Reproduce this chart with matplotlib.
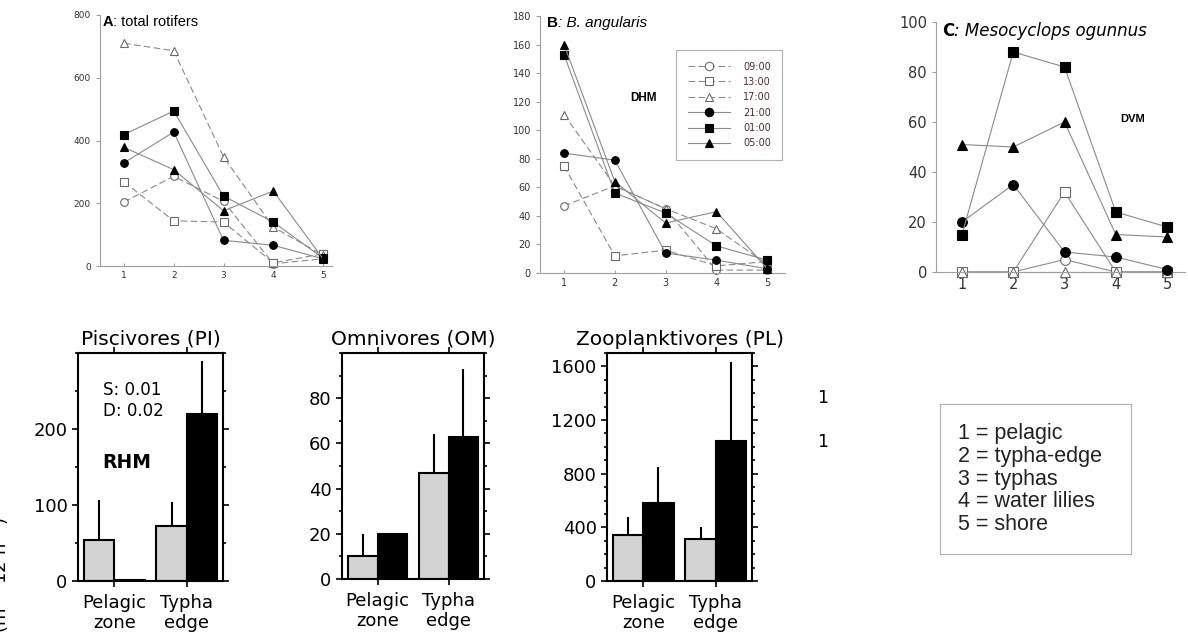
import matplotlib
matplotlib.use('Agg')
import matplotlib.pyplot as plt
from matplotlib.ticker import MultipleLocator

W, H = 1188, 637

# top row: sites 1..5, one row per sampling time
sites = [1, 2, 3, 4, 5]
times = ['09:00', '13:00', '17:00', '21:00', '01:00', '05:00']
markers = ['o', 's', '^', 'o', 's', '^']
is_open = [True, True, True, False, False, False]

rotifers = [[204, 286, 206, 7, 23],
            [268, 144, 140, 10, 39],
            [710, 686, 348, 124, 34],
            [329, 427, 82, 66, 23],
            [419, 494, 223, 140, 25],
            [378, 307, 176, 239, 23]]

angularis = [[47, 61, 45, 2, 2],
             [75, 12, 16, 5, 8],
             [111, 61, 45, 31, 6],
             [84, 79, 14, 9, 3],
             [153, 56, 42, 19, 9],
             [160, 64, 35, 43, 3]]

mesocyclops = [[0, 0, 5, 0, 0],
               [0, 0, 32, 0, 0],
               [0, 0, 0, 0, 0],
               [20, 35, 8, 6, 1],
               [15, 88, 82, 24, 18],
               [51, 50, 60, 15, 14]]

# bottom row: fish guilds
groups = ['Pelagic\nzone', 'Typha\nedge']
pisc_gray, pisc_gray_err = [54, 73], [53, 31]
pisc_black, pisc_black_err = [1, 220], [0, 70]
omni_gray, omni_gray_err = [10, 47], [10, 17]
omni_black, omni_black_err = [20, 63], [0, 30]
zoo_gray, zoo_gray_err = [343, 311], [137, 89]
zoo_black, zoo_black_err = [585, 1047], [268, 585]

site_names = ['1 = pelagic', '2 = typha-edge', '3 = typhas', '4 = water lilies', '5 = shore']

fig = plt.figure(figsize=(W / 100, H / 100), dpi=100)


def pax(l, t, r, b):
    return fig.add_axes([l / W, 1 - b / H, (r - l) / W, (b - t) / H])


def line_panel(ax, data, ms, solid=False):
    for row, lab, mk, op in zip(data, times, markers, is_open):
        ls = '-' if (solid or not op) else (0, (6, 3))
        ax.plot(sites, row, ls=ls, color='#8a8a8a', lw=0.8, marker=mk, ms=ms,
                mfc='white' if op else 'black', mec='#6a6a6a' if op else 'black',
                mew=0.8, label=lab, zorder=2 if op else 3, clip_on=False)
    for s in ['top', 'right']:
        ax.spines[s].set_visible(False)
    for s in ['left', 'bottom']:
        ax.spines[s].set_color('#a0a0a0')
        ax.spines[s].set_linewidth(0.8)
    ax.set_xticks(sites)
    ax.tick_params(axis='y', direction='out', length=3, color='#a0a0a0', labelcolor='#333333')
    ax.tick_params(axis='x', direction='in', length=2, color='#a0a0a0', labelcolor='#333333')


def two_part_title(ax, x, y, head, rest, size, family, style='normal'):
    t1 = ax.text(x, y, head, transform=ax.transAxes, fontsize=size, fontweight='bold',
                 family=family, va='top', ha='left')
    ax.annotate(rest, xy=(1, 0), xycoords=t1, va='bottom', ha='left', fontsize=size,
                family=family, style=style)


# ---- A: total rotifers
axA = pax(100, 15, 332, 266)
line_panel(axA, rotifers, 5.5)
axA.set_xlim(0.518, 5.18)
axA.set_ylim(0, 800)
axA.set_yticks([0, 200, 400, 600, 800])
axA.tick_params(labelsize=6.5)
two_part_title(axA, 0.012, 1.0, 'A', ': total rotifers', 10.5, 'Liberation Sans')

# ---- B: B. angularis
axB = pax(540, 16, 785, 273)
line_panel(axB, angularis, 5.5)
axB.set_xlim(0.527, 5.35)
axB.set_ylim(0, 180)
axB.set_yticks(range(0, 181, 20))
axB.tick_params(labelsize=7)
two_part_title(axB, 0.03, 1.0, 'B', ': B. angularis', 11, 'Liberation Sans', style='italic')
axB.text(0.37, 0.68, 'DHM', transform=axB.transAxes, fontsize=8.5, fontweight='bold',
         family='Liberation Sans', va='center', ha='left')
leg = axB.legend(loc='upper left', bbox_to_anchor=(671 / W, 1 - 45 / H),
                 bbox_transform=fig.transFigure, fontsize=7, handlelength=4.4,
                 handletextpad=1.3, labelspacing=0.55, borderpad=1.2, fancybox=False,
                 edgecolor='#b0b0b0', framealpha=1, labelcolor='#5a2a2a', markerscale=1.1)
leg.get_frame().set_linewidth(0.8)

# ---- C: Mesocyclops ogunnus
axC = pax(936, 22, 1185, 272)
line_panel(axC, mesocyclops, 7, solid=True)
axC.set_xlim(0.493, 5.35)
axC.set_ylim(0, 100)
axC.set_yticks(range(0, 101, 20))
axC.tick_params(labelsize=10.5)
two_part_title(axC, 0.025, 1.0, 'C', ': Mesocyclops ogunnus', 12, 'DejaVu Sans', style='italic')
axC.text(0.74, 0.61, 'DVM', transform=axC.transAxes, fontsize=8, fontweight='bold',
         family='Liberation Sans', va='center', ha='left')


# ---- bottom bar panels
def bar_panel(ax, title, gray, gray_err, black, black_err, ymax, major, minor):
    x = [0, 1]
    w = 0.42
    xg = [v - w / 2 for v in x]
    xb = [v + w / 2 for v in x]
    ax.bar(xg, gray, w, color='#d3d3d3', edgecolor='black', lw=1.5, zorder=2)
    ax.bar(xb, black, w, color='black', edgecolor='black', lw=1.5, zorder=2)
    ax.errorbar(xg, gray, yerr=[[0, 0], gray_err], fmt='none', ecolor='black', elinewidth=1.5, capsize=0, zorder=1)
    ax.errorbar(xb, black, yerr=[[0, 0], black_err], fmt='none', ecolor='black', elinewidth=1.5, capsize=0, zorder=1)
    ax.set_xlim(-0.5, 1.5)
    ax.set_ylim(0, ymax)
    ax.set_xticks(x)
    ax.set_xticklabels(groups, fontsize=14, linespacing=1.15)
    ax.set_yticks(major)
    ax.yaxis.set_minor_locator(MultipleLocator(minor))
    ax.tick_params(which='both', direction='out', left=True, right=True, top=True, bottom=True,
                   width=1.2, labelsize=13)
    ax.tick_params(which='major', length=4)
    ax.tick_params(which='minor', length=2.5)
    ax.tick_params(axis='x', pad=5)
    for s in ax.spines.values():
        s.set_linewidth(1.5)
    ax.set_title(title, fontsize=14.5, pad=6)


axP = pax(78, 353, 223, 581)
bar_panel(axP, 'Piscivores (PI)', pisc_gray, pisc_gray_err, pisc_black, pisc_black_err,
          300, [0, 100, 200], 50)
axP.text(0.17, 0.79, 'S: 0.01\nD: 0.02', transform=axP.transAxes, fontsize=12,
         va='center', ha='left', linespacing=1.2)
axP.text(0.17, 0.52, 'RHM', transform=axP.transAxes, fontsize=13.5, fontweight='bold',
         va='center', ha='left')

axO = pax(342, 353, 484, 579)
bar_panel(axO, 'Omnivores (OM)', omni_gray, omni_gray_err, omni_black, omni_black_err,
          100, [0, 20, 40, 60, 80], 10)

axZ = pax(607, 353, 752, 581)
bar_panel(axZ, 'Zooplanktivores (PL)', zoo_gray, zoo_gray_err, zoo_black, zoo_black_err,
          1700, [0, 400, 800, 1200, 1600], 100)

fig.text(817 / W, 1 - 398 / H, '1', fontsize=12.5, ha='left', va='center')
fig.text(817 / W, 1 - 442 / H, '1', fontsize=12.5, ha='left', va='center')

# partially cut-off y label at the left edge, as in the source image
fig.text(0.0, 1 - 575 / H, '(m$^{-2}$ 12 h$^{-1}$)', rotation=90, fontsize=13,
         ha='center', va='center')

# site key box
axK = pax(940, 404, 1131, 554)
axK.set_xticks([])
axK.set_yticks([])
for s in axK.spines.values():
    s.set_color('#b0b0b0')
    s.set_linewidth(0.8)
axK.text(0.095, 0.5, '\n'.join(site_names), transform=axK.transAxes, fontsize=15.5,
         family='Liberation Sans', va='center', ha='left', linespacing=1.1, color='#222222')

fig.savefig('out.png', dpi=100)
